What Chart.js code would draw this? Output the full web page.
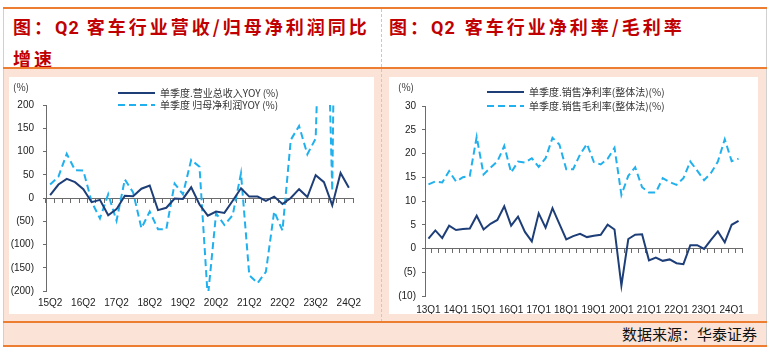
<!DOCTYPE html>
<html><head><meta charset="utf-8">
<script src="https://cdn.jsdelivr.net/npm/chart.js@4.4.1/dist/chart.umd.min.js"></script>
<style>
html,body{margin:0;padding:0;background:#fff;width:769px;height:357px;overflow:hidden;font-family:"Noto Sans CJK SC",sans-serif;}
.abs{position:absolute;}
.orange{background:#ED7D31;height:2px;left:3px;width:764px;}
.peach{background:#FBE4D7;}
.title{color:#C00000;font-weight:bold;font-size:18px;letter-spacing:3px;line-height:30px;white-space:nowrap;}
.title .lat{font-family:Roboto,"Open Sans",sans-serif;font-weight:700;letter-spacing:1px;margin-right:7px;}
.panel{background:#fff;}
</style></head><body>
<div class="abs" style="left:3px;top:7px;width:1px;height:340px;background:#d0d0d0"></div>
<div class="abs" style="left:766px;top:7px;width:1px;height:340px;background:#d0d0d0"></div>
<div class="abs orange" style="top:7px"></div>
<div class="abs title" style="left:13px;top:11px">图：<span class="lat">Q2</span>客车行业营收/归母净利润同比<br>增速</div>
<div class="abs title" style="left:389px;top:11px">图：<span class="lat" style="margin-right:9px">Q2</span>客车行业净利率/毛利率</div>
<div class="abs orange" style="top:67px"></div>
<div class="abs peach" style="left:4px;top:69px;width:762px;height:253px"></div>
<div class="abs" style="left:381px;top:9px;height:313px;border-left:1px dashed #c8c8c8"></div>
<div class="abs panel" style="left:9px;top:77px;width:365px;height:237px"><canvas id="c1"></canvas></div>
<div class="abs panel" style="left:389px;top:77px;width:369px;height:237px"><canvas id="c2"></canvas></div>
<div class="abs orange" style="top:321px"></div>
<div class="abs peach" style="left:4px;top:323px;width:762px;height:22px"></div>
<div class="abs orange" style="top:345px"></div>
<div class="abs" style="right:12px;top:323px;line-height:22px;font-size:15px;color:#111;">数据来源：华泰证券</div>
<script>
// ---- Left chart data ----
const leftQuarters = ['15Q2','15Q3','15Q4','16Q1','16Q2','16Q3','16Q4','17Q1','17Q2','17Q3','17Q4','18Q1','18Q2','18Q3','18Q4','19Q1','19Q2','19Q3','19Q4','20Q1','20Q2','20Q3','20Q4','21Q1','21Q2','21Q3','21Q4','22Q1','22Q2','22Q3','22Q4','23Q1','23Q2','23Q3','23Q4','24Q1','24Q2'];
const leftTickLabels = ['15Q2','16Q2','17Q2','18Q2','19Q2','20Q2','21Q2','22Q2','23Q2','24Q2'];
const revenueYoY = [6, 29, 41, 34, 19, -9, -4, -37, -24, 5, 4, 20, 27, -26, -21, -1, -2, 23, -14, -38, -29, -32, -6, 21, 3, 3, -6, 3, -13, 0, 19, 2, 49, 34, -16, 54, 22];
const netProfitYoY = [29, 46, 95, 60, 59, -8, -44, 8, -49, 40, 12, -65, -29, -67, -67, 31, 8, 82, 67, -215, -33, -58, -37, 53, -166, -183, -159, -29, -70, 125, 155, 94, 128, 700, 15, 1500, 350];
const leftSeriesNames = ['单季度.营业总收入YOY (%)', '单季度 归母净利润YOY (%)'];

// ---- Right chart data ----
const rightQuarters = ['13Q1','13Q2','13Q3','13Q4','14Q1','14Q2','14Q3','14Q4','15Q1','15Q2','15Q3','15Q4','16Q1','16Q2','16Q3','16Q4','17Q1','17Q2','17Q3','17Q4','18Q1','18Q2','18Q3','18Q4','19Q1','19Q2','19Q3','19Q4','20Q1','20Q2','20Q3','20Q4','21Q1','21Q2','21Q3','21Q4','22Q1','22Q2','22Q3','22Q4','23Q1','23Q2','23Q3','23Q4','24Q1','24Q2'];
const rightTickLabels = ['13Q1','14Q1','15Q1','16Q1','17Q1','18Q1','19Q1','20Q1','21Q1','22Q1','23Q1','24Q1'];
const netMargin = [2.1, 3.8, 2.2, 4.8, 3.9, 4.1, 4.2, 6.9, 4.0, 5.2, 6.0, 8.9, 4.8, 6.7, 3.5, 1.5, 7.4, 4.4, 8.5, 5.2, 1.9, 2.6, 3.1, 2.4, 2.7, 2.9, 5.0, 4.0, -7.8, 2.0, 2.9, 3.0, -2.5, -1.9, -2.6, -2.3, -3.1, -3.3, 0.7, 0.7, -0.1, 1.8, 3.6, 1.3, 5.0, 5.8];
const grossMargin = [13.5, 14.1, 13.9, 16.3, 14.1, 15.0, 15.3, 23.5, 15.6, 17.0, 18.3, 21.6, 16.0, 18.3, 18.1, 19.0, 17.2, 19.0, 23.3, 21.9, 16.7, 16.7, 19.8, 22.0, 18.2, 17.7, 18.9, 21.2, 11.3, 15.3, 17.1, 12.9, 11.8, 11.8, 14.8, 14.0, 13.4, 14.8, 18.3, 16.4, 14.4, 15.9, 18.3, 23.0, 18.4, 18.9];
const rightSeriesNames = ['单季度.销售净利率(整体法)(%)', '单季度.销售毛利率(整体法)(%)'];

const NAVY = '#1E3E78';
const CYAN = '#21B0EE';
const AXIS = '#6b6b6b';
const TICKFONT = {family: '"Liberation Sans", Arial, sans-serif', size: 10};

const lineLegend = {
  id: 'lineLegend',
  afterDraw(chart, args, o) {
    const ctx = chart.ctx;
    ctx.save();
    ctx.font = '10px "Noto Sans CJK SC", sans-serif';
    ctx.fillStyle = '#333';
    ctx.textBaseline = 'middle';
    ctx.textAlign = 'left';
    ctx.fillText('(%)', o.unitX, o.unitY);
    chart.data.datasets.forEach((ds, i) => {
      const y = o.y + i * o.gap;
      ctx.beginPath();
      ctx.setLineDash(ds.borderDash || []);
      ctx.strokeStyle = ds.borderColor;
      ctx.lineWidth = ds.borderWidth;
      ctx.moveTo(o.x, y);
      ctx.lineTo(o.x + o.len, y);
      ctx.stroke();
      ctx.setLineDash([]);
      ctx.fillText(ds.label, o.x + o.len + 5, y);
    });
    ctx.restore();
  }
};

function paren(v) { return v < 0 ? '(' + Math.abs(v) + ')' : String(v); }

function makeChart(id, cats, shown, s1, s2, names, yMin, yMax, step, lay) {
  return new Chart(document.getElementById(id), {
    type: 'line',
    data: {
      labels: cats,
      datasets: [
        {label: names[0], data: s1, borderColor: NAVY, borderWidth: 2, pointRadius: 0, tension: 0, xAxisID: 'x'},
        {label: names[1], data: s2, borderColor: CYAN, borderWidth: 2, borderDash: [7, 4], pointRadius: 0, tension: 0, xAxisID: 'x'}
      ]
    },
    options: {
      responsive: true,
      maintainAspectRatio: false,
      animation: false,
      layout: {padding: {top: lay.top, right: lay.right, left: 0, bottom: 0}},
      plugins: {legend: {display: false}, tooltip: {enabled: false}, lineLegend: lay.legend},
      scales: {
        x: {
          type: 'category', position: 'bottom', offset: true,
          grid: {display: false, drawTicks: false},
          border: {display: false},
          ticks: {autoSkip: false, maxRotation: 0, minRotation: 0, padding: lay.xPad, color: '#222', font: TICKFONT,
            callback: function(v, i) { const l = cats[i]; return shown.includes(l) ? l : ''; }},
          afterFit: s => { s.height = lay.xH; }
        },
        x2: {
          type: 'category', axis: 'x', labels: cats, offset: true, position: {y: 0},
          grid: {offset: true, drawOnChartArea: false, drawTicks: true, tickLength: 4, color: AXIS},
          border: {display: true, color: AXIS, width: 1},
          ticks: {display: false}
        },
        y: {
          min: yMin, max: yMax,
          grid: {drawOnChartArea: false, drawTicks: true, tickLength: 3, color: AXIS},
          border: {display: true, color: AXIS},
          ticks: {stepSize: step, padding: lay.yPad, color: '#222', font: TICKFONT, callback: v => paren(v)},
          afterFit: s => { s.width = lay.yW; }
        }
      }
    },
    plugins: [lineLegend]
  });
}

makeChart('c1', leftQuarters, leftTickLabels, revenueYoY, netProfitYoY, leftSeriesNames, -200, 200, 50,
  {top: 28, right: 21, xH: 23, yW: 37, xPad: 6, yPad: 9,
   legend: {unitX: 4, unitY: 10, x: 109, y: 16, gap: 12, len: 37}});
makeChart('c2', rightQuarters, rightTickLabels, netMargin, grossMargin, rightSeriesNames, -10, 30, 5,
  {top: 29, right: 16, xH: 18, yW: 36, xPad: 8, yPad: 6,
   legend: {unitX: 9, unitY: 10, x: 98, y: 15, gap: 14, len: 37}});
</script>
</body></html>
